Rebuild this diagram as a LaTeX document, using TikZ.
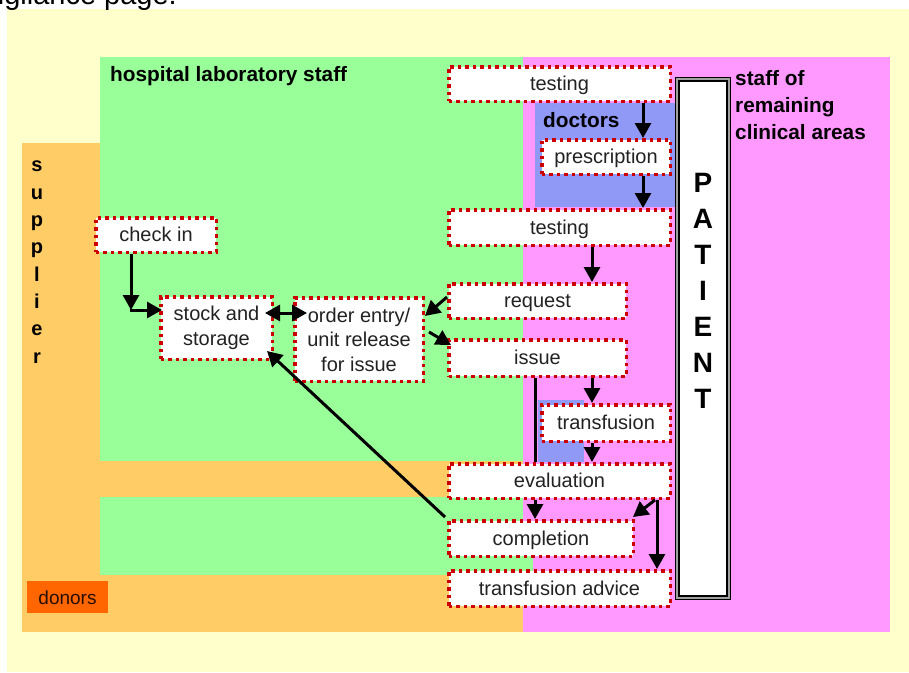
\documentclass[tikz,border=0pt]{standalone}
\usepackage{fontspec}
\setmainfont{Liberation Sans}
\usetikzlibrary{arrows.meta}
\definecolor{bgyellow}{HTML}{FFFFCC}
\definecolor{supor}{HTML}{FFCC66}
\definecolor{labgreen}{HTML}{99FF99}
\definecolor{clinpink}{HTML}{FF99FF}
\definecolor{docblue}{HTML}{9199F7}
\definecolor{donor}{HTML}{FF6600}
\definecolor{dotred}{HTML}{CC0000}
\definecolor{txt}{HTML}{222222}
\definecolor{framegray}{HTML}{A0A0A0}
\begin{document}
\begin{tikzpicture}[x=1pt,y=-1pt,
  box/.style={draw=dotred, fill=white, line width=3.5pt, dash pattern=on 3.5pt off 4pt,
    inner sep=0pt, text=txt, font=\fontsize{20}{24.5}\selectfont, align=center},
  sbox/.style={box, text height=14pt, text depth=0.8pt},
  arr/.style={line width=3pt, -{Triangle[length=15pt,width=16pt]}},
  arrboth/.style={line width=3pt, {Triangle[length=15pt,width=16pt]}-{Triangle[length=15pt,width=16pt]}},
  plainline/.style={line width=3pt},
  lbl/.style={font=\fontsize{20.8}{27}\selectfont\bfseries, text=black, inner sep=0pt},
]
\useasboundingbox (0,0) rectangle (909,672);
% backgrounds
\fill[white] (0,0) rectangle (909,672);
\fill[bgyellow] (7,9) rectangle (909,672);
\node[anchor=base east, font=\fontsize{29}{32}\selectfont, inner sep=0pt] (vig) at (177,4) {vigilance page.};
\fill[supor] (22,143) rectangle (523,632);
\fill[labgreen] (100,57) rectangle (523,461);
\fill[labgreen] (100,497) rectangle (523,575);
\fill[clinpink] (523,57) rectangle (890,632);
\fill[labgreen] (523,555) rectangle (533,575);
\fill[docblue] (535,103) rectangle (675,207);
\fill[docblue] (538,400) rectangle (584,462);
% donors
\node[fill=donor, minimum width=81pt, minimum height=32pt, inner sep=0pt,
  font=\fontsize{19}{22}\selectfont, text=black!85!donor, text height=15pt, text depth=0pt] (donors) at (67.5,597) {donors};
% labels
\node[lbl, anchor=base west] (lab) at (110,81) {hospital laboratory staff};
\node[lbl, anchor=base west] (doctors) at (543,127) {doctors};
\node[lbl, align=left, anchor=north west] (clin) at (735,70) {staff of\\remaining\\clinical areas};
\node[lbl, align=center, anchor=north, font=\fontsize{20}{27.3}\selectfont\bfseries] (supplier) at (37,161) {s\\u\\p\\p\\l\\i\\e\\r};
% patient
\node[draw=black, double=framegray, double distance=2.2pt, line width=1.2pt, fill=white,
  minimum width=51.4pt, minimum height=518.4pt, inner sep=0pt] (patient) at (703,338.5) {};
\node[font=\fontsize{28}{36}\selectfont\bfseries, align=center, anchor=north, inner sep=0pt] (ptext) at (703,173) {P\\A\\T\\I\\E\\N\\T};
% boxes
\node[sbox, minimum width=221.5pt, minimum height=34.5pt] (t1) at (559.5,84) {testing};
\node[sbox, minimum width=128.5pt, minimum height=34.5pt] (pr) at (606,157) {prescription};
\node[sbox, minimum width=221.5pt, minimum height=35.5pt] (t2) at (559.5,227.5) {testing};
\node[sbox, minimum width=120.5pt, minimum height=34.5pt] (ci) at (156,235) {check in};
\node[box, minimum width=111.5pt, minimum height=62.5pt] (st) at (216.5,328) {stock and\\storage};
\node[box, minimum width=128.5pt, minimum height=83.5pt] (oe) at (359,339.5) {order entry/\\unit release\\for issue};
\node[sbox, minimum width=177.5pt, minimum height=34.5pt] (rq) at (537.5,301) {request};
\node[sbox, minimum width=177.5pt, minimum height=36.5pt] (is) at (537.5,358) {issue};
\node[sbox, minimum width=128.5pt, minimum height=36.5pt] (tf) at (606,423) {transfusion};
\node[sbox, minimum width=221.5pt, minimum height=34.5pt] (ev) at (559.5,481) {evaluation};
\node[sbox, minimum width=184.5pt, minimum height=35.5pt] (co) at (541,538.5) {completion};
\node[sbox, minimum width=221.5pt, minimum height=35.5pt] (ta) at (559.5,588.5) {transfusion advice};
% connectors
\coordinate (xa) at (643,0);
\coordinate (xb) at (592,0);
\coordinate (xc) at (535,0);
\coordinate (xd) at (657,0);
\coordinate (cc) at (131,310);
\draw[arr] (t1.south -| xa) -- (pr.north -| xa);
\draw[arr] (pr.south -| xa) -- (t2.north -| xa);
\draw[arr] (t2.south -| xb) -- (rq.north -| xb);
\draw[arr] ([yshift=4pt]rq.west) -- ([yshift=23.5pt]oe.east);
\draw[arr] ([shift={(4pt,7.5pt)}]oe.east) -- ([shift={(4pt,13pt)}]is.west);
\draw[arr] (is.south -| xb) -- (tf.north -| xb);
\draw[arr] (tf.south -| xb) -- (ev.north -| xb);
\draw[plainline] (is.south -| xc) -- (ev.north -| xc);
\draw[arr] (ev.south -| xc) -- (co.north -| xc);
\draw[arr] ([xshift=-17pt]ev.south east) -- ([shift={(-2pt,2pt)}]co.north east);
\draw[arr] (ev.south -| xd) -- (ta.north -| xd);
\draw[arr] ([shift={(-2pt,2pt)}]co.north west) -- ([shift={(-7pt,10pt)}]st.south east);
\draw[arr] (ci.south -| cc) -- (cc);
\draw[arr] ([xshift=-1.5pt]cc) -- ([xshift=3pt]cc -| st.west);
\draw[arrboth] ([shift={(-9pt,15pt)}]st.east) -- ([shift={(14pt,26.5pt)}]oe.west);
\end{tikzpicture}
\end{document}
